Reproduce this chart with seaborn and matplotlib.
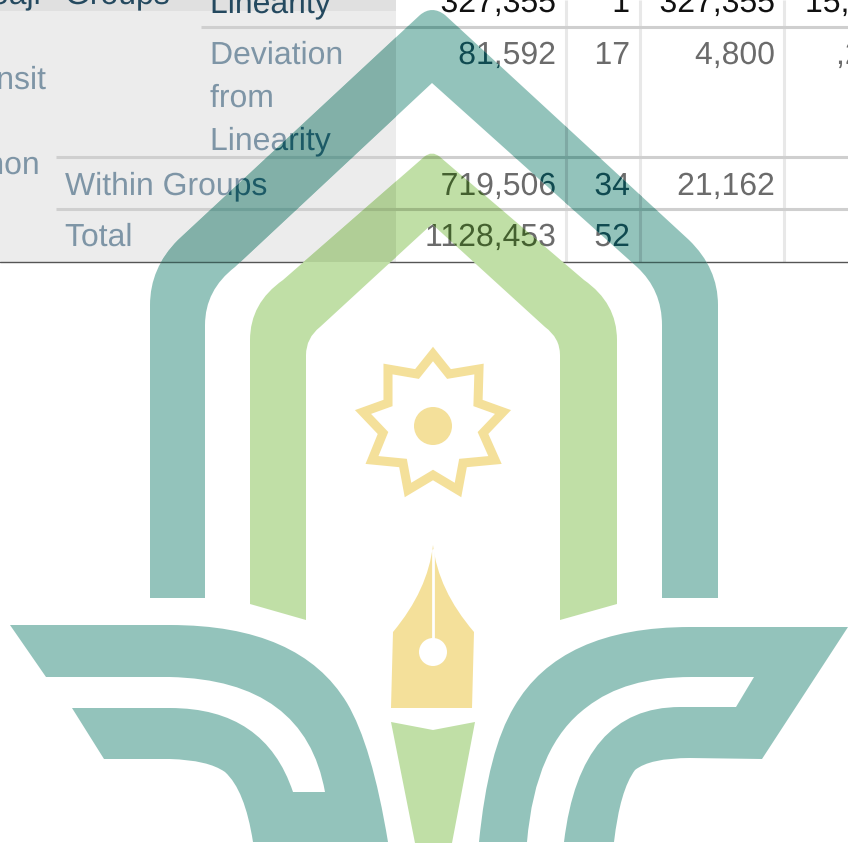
import matplotlib
matplotlib.use('Agg')
import matplotlib.pyplot as plt
import matplotlib.patheffects as pe
from matplotlib.path import Path
from matplotlib.patches import PathPatch, Circle, Rectangle
import seaborn as sns

# table content
side_labels = ['oaji', 'nsit', 'non']
group_labels = ['Groups', 'Within Groups', 'Total']
term_labels = ['Linearity', 'Deviation', 'from', 'Linearity']
sum_squares = ['327,355', '81,592', '719,506', '1128,453']
dof = ['1', '17', '34', '52']
mean_square = ['327,355', '4,800', '21,162']
f_values = ['15,4', ',2']

sns.set_theme(style='white', rc={'axes.facecolor': 'white', 'figure.facecolor': 'white'})
plt.rcParams['font.family'] = ['Liberation Sans', 'DejaVu Sans']

teal, green, yellow = sns.color_palette(['#93c3bb', '#c0dfa6', '#f4e09a'])

FS = 23.0

fig = plt.figure(figsize=(8.48, 8.44), dpi=100)
ax = fig.add_axes([0, 0, 1, 1])
ax.set_xlim(0, 848)
ax.set_ylim(844, 0)
ax.axis('off')


def make_path(pts):
    # (x, y) is a straight line, (cx, cy, x, y) a curve
    verts, codes = [pts[0]], [Path.MOVETO]
    for p in pts[1:]:
        if len(p) == 2:
            verts.append(p)
            codes.append(Path.LINETO)
        else:
            verts += [p[:2], p[2:]]
            codes += [Path.CURVE3, Path.CURVE3]
    verts.append(pts[0])
    codes.append(Path.CLOSEPOLY)
    return Path(verts, codes)


def draw_table(bg_top, bg, rule, vrule, label_dark, label, num_dark, num, clip=None, z=1):
    arts = [
        ax.add_patch(Rectangle((0, 0), 396, 11, fc=bg_top, lw=0, zorder=z)),
        ax.add_patch(Rectangle((0, 11), 396, 251, fc=bg, lw=0, zorder=z)),
    ]
    for x in [566, 640, 784]:
        arts += ax.plot([x, x], [0, 262], color=vrule, lw=2.2, zorder=z + 0.1, solid_capstyle='butt')
    for y, x0 in [(27, 201), (157, 56), (209, 56)]:
        arts += ax.plot([x0, 848], [y, y], color=rule, lw=2.2, zorder=z + 0.2, solid_capstyle='butt')

    def put(x, y, s, color, ha='left'):
        t = ax.text(x, y, s, color=color, ha=ha, va='baseline', fontsize=FS, zorder=z + 0.3,
                    path_effects=[pe.Normal()])
        arts.append(t)

    put(41, 4, side_labels[0], label_dark, 'right')
    put(46, 89, side_labels[1], label, 'right')
    put(40, 174, side_labels[2], label, 'right')
    put(65, 4, group_labels[0], label_dark)
    put(65, 195, group_labels[1], label)
    put(65, 246, group_labels[2], label)
    put(210, 13, term_labels[0], label_dark)
    for y, s in zip([64, 107, 150], term_labels[1:]):
        put(210, y, s, label)

    for y, s, c in zip([12, 64, 195, 246], sum_squares, [num_dark, num, num, num]):
        put(556, y, s, c, 'right')
    for y, s, c in zip([12, 64, 195, 246], dof, [num_dark, num, num, num]):
        put(630, y, s, c, 'right')
    for y, s, c in zip([12, 64, 195], mean_square, [num_dark, num, num]):
        put(775, y, s, c, 'right')
    put(805, 12, f_values[0], num_dark)
    put(836, 64, f_values[1], num)

    if clip is not None:
        for a in arts:
            a.set_clip_on(True)
            a.set_clip_path(clip)


# plain table
draw_table('#e0e0e0', '#ececec', '#cfcfcf', '#e8e8e8', '#24495f', '#7e95a6', '#111111', '#6b6b6b')
ax.plot([0, 848], [262, 262], color='#555555', lw=1, zorder=2)

# outer teal arch
arch = make_path([(150, 598), (150, 305), (150, 268, 178, 240), (420, 15), (432, 5, 445, 15),
                  (689, 240), (718, 268, 718, 305), (718, 598), (662, 598), (662, 325),
                  (662, 290, 637, 267), (432, 83), (235, 267), (205, 290, 205, 325), (205, 598)])
# green arch
inner_arch = make_path([(250, 604), (250, 340), (250, 303, 283, 280), (424, 157), (432, 150, 440, 157),
                        (584, 280), (617, 303, 617, 340), (617, 604), (560, 620), (560, 355),
                        (560, 338, 545, 327), (432, 224), (320, 327), (306, 338, 306, 355), (306, 620)])
left_wing = make_path([(10, 625), (170, 625), (300, 625, 347, 703), (372, 745, 388, 842), (253, 842),
                       (245, 790, 225, 772), (208, 760, 170, 759), (104, 759), (72, 708), (170, 708),
                       (265, 708, 293, 792), (325, 792), (305, 680, 170, 677), (46, 677)])
right_wing = make_path([(848, 627), (690, 627), (560, 627, 514, 707), (488, 750, 479, 842), (527, 842),
                        (535, 745, 587, 707), (625, 677, 691, 677), (754, 677), (736, 707), (680, 707),
                        (580, 707, 564, 842), (614, 842), (620, 790, 635, 770), (650, 758, 690, 758),
                        (762, 759)])
wedge = make_path([(391, 722), (433, 730), (475, 722), (452, 843), (415, 843)])
nib = make_path([(433, 545), (428, 590, 393, 632), (391, 708), (472, 708), (474, 632), (438, 590, 433, 545)])
star = [(433, 354), (449, 374), (479, 369), (478, 403), (503, 412), (483, 433), (495, 460), (463, 463),
        (458, 490), (433, 475), (408, 490), (403, 463), (372, 460), (383, 433), (363, 412), (388, 403),
        (388, 369), (417, 374)]

arch_patch = ax.add_patch(PathPatch(arch, fc=teal, lw=0, zorder=3))
green_patch = ax.add_patch(PathPatch(inner_arch, fc=green, lw=0, zorder=3))

# table seen through the logo
draw_table('#cdd9d5', '#82b0a8', '#6f9f98', '#7fa9a4', '#12414f', '#1c5a66', '#0b2d2e', '#0f4a50',
           clip=arch_patch, z=4)
draw_table('#b0ce96', '#b0ce96', '#9db884', '#aecb95', '#3a5a35', '#4d6a55', '#2c4020', '#44602f',
           clip=green_patch, z=4)
base_dark = ax.plot([0, 848], [262, 262], color='#3f5f5a', lw=1, zorder=5)[0]
base_dark.set_clip_path(arch_patch)

ax.add_patch(PathPatch(left_wing, fc=teal, lw=0, zorder=6))
ax.add_patch(PathPatch(right_wing, fc=teal, lw=0, zorder=6))
ax.add_patch(PathPatch(wedge, fc=green, lw=0, zorder=6))
ax.add_patch(PathPatch(nib, fc=yellow, lw=0, zorder=6))
ax.add_patch(Circle((433, 652), 14, fc='white', lw=0, zorder=7))
ax.plot([433, 433], [550, 652], color='white', lw=2, zorder=7)
ax.add_patch(PathPatch(make_path(star), fc='none', ec=yellow, lw=6.5, joinstyle='miter', zorder=6))
ax.add_patch(Circle((433, 426), 19, fc=yellow, lw=0, zorder=6))

fig.savefig('out.png', dpi=100)
